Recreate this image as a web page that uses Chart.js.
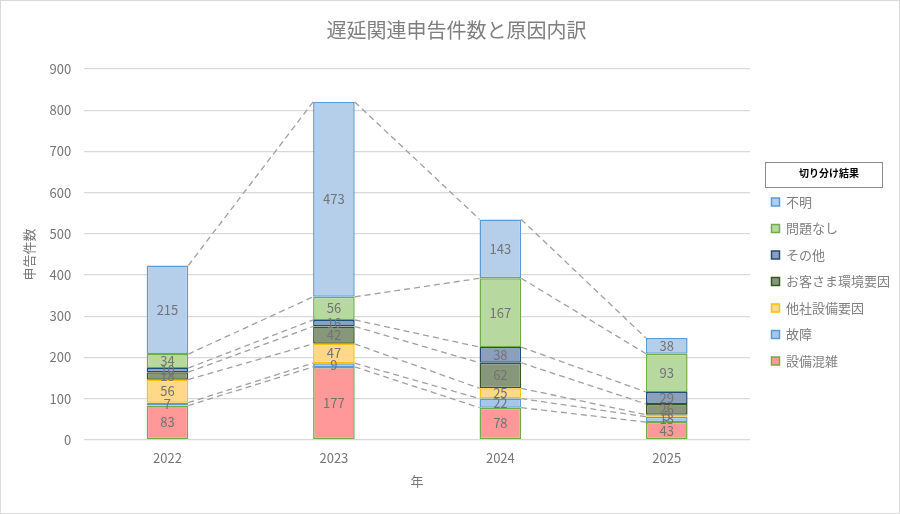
<!DOCTYPE html>
<html lang="ja">
<head>
<meta charset="utf-8">
<script src="https://cdn.jsdelivr.net/npm/chart.js@4.4.1/dist/chart.umd.min.js"></script>
<style>
  html, body { margin: 0; padding: 0; background: #fff; }
  #wrap { width: 900px; height: 514px; position: relative; }
</style>
</head>
<body>
<div id="wrap"><canvas id="myChart"></canvas></div>
<script>
"use strict";
// --- data ---
const years = ["2022", "2023", "2024", "2025"];
const causeNames = ["設備混雑", "故障", "他社設備要因", "お客さま環境要因", "その他", "問題なし", "不明"];
const setsubiKonzatsu = [83, 177, 78, 43];
const koshou = [7, 9, 22, 13];
const tashaSetsubi = [56, 47, 25, 5];
const okyakusama = [18, 42, 62, 26];
const sonota = [10, 16, 38, 29];
const mondaiNashi = [34, 56, 167, 93];
const fumei = [215, 473, 143, 38];
const yMin = 0, yMax = 900, yStep = 100;

// --- styles ---
const fills = ['#ff9999', '#a5c8ea', '#ffd88a', '#879779', '#8c9fbd', '#b7d89f', '#b5cfeb'];
const borders = ['#70ad47', '#5b9bd5', '#ffc000', '#375623', '#1f4e79', '#70ad47', '#5b9bd5'];
const FONT = '"Noto Sans CJK JP", "Noto Sans", sans-serif';
const LEGEND_TITLE_PAD = { top: 56, bottom: 2 };

const seriesValues = [setsubiKonzatsu, koshou, tashaSetsubi, okyakusama, sonota, mondaiNashi, fumei];

const chartBackground = {
    id: 'chartBackground',
    beforeDraw(chart) {
        const c = chart.ctx;
        c.save();
        c.fillStyle = '#fff';
        c.fillRect(0, 0, chart.width, chart.height);
        c.strokeStyle = '#d9d9d9';
        c.lineWidth = 1;
        c.strokeRect(0.5, 0.5, chart.width - 1, chart.height - 1);
        c.restore();
    }
};

// dashed series lines between the stacked bars
const seriesLines = {
    id: 'seriesLines',
    afterDatasetsDraw(chart) {
        const c = chart.ctx;
        c.save();
        c.strokeStyle = '#a0a0a0';
        c.lineWidth = 1.3;
        c.setLineDash([6, 4]);
        chart.data.datasets.forEach((ds, i) => {
            const bars = chart.getDatasetMeta(i).data;
            for (let j = 0; j < bars.length - 1; j++) {
                const a = bars[j], b = bars[j + 1];
                c.beginPath();
                c.moveTo(a.x + a.width / 2, a.y);
                c.lineTo(b.x - b.width / 2, b.y);
                c.stroke();
            }
        });
        c.restore();
    }
};

const barLabels = {
    id: 'barLabels',
    afterDatasetsDraw(chart) {
        const c = chart.ctx;
        c.save();
        c.font = '13px ' + FONT;
        c.fillStyle = '#737373';
        c.textAlign = 'center';
        c.textBaseline = 'middle';
        chart.data.datasets.forEach((ds, i) => {
            chart.getDatasetMeta(i).data.forEach((bar, j) => {
                c.fillText(String(ds.data[j]), bar.x, (bar.y + bar.base) / 2);
            });
        });
        c.restore();
    }
};

// box round the legend title
const legendTitleBox = {
    id: 'legendTitleBox',
    afterDraw(chart) {
        const lg = chart.legend;
        if (!lg || !lg.columnSizes) return;
        const opts = lg.options;
        const titleH = 12 + LEGEND_TITLE_PAD.top + LEGEND_TITLE_PAD.bottom;
        const maxH = lg.columnSizes.reduce((m, s) => Math.max(m, s.height), 0);
        const top = (lg.top + (lg.bottom - maxH - opts.labels.padding - titleH)) / 2;
        const mid = top + LEGEND_TITLE_PAD.top + 6;
        const c = chart.ctx;
        c.save();
        c.strokeStyle = '#8c8c8c';
        c.lineWidth = 1;
        c.strokeRect(Math.round(lg.left + opts.labels.padding - 6) + 0.5, Math.round(mid - 12.5) + 0.5, 117, 25);
        c.restore();
    }
};

let myChart = document.getElementById("myChart").getContext('2d');
let delayChart = new Chart(myChart, {
    type: 'bar',
    data: {
        labels: years,
        datasets: causeNames.map((name, i) => ({
            label: name,
            data: seriesValues[i],
            backgroundColor: fills[i],
            borderColor: borders[i],
            borderWidth: 1.5,
            borderSkipped: false,
            barPercentage: 0.5,
            categoryPercentage: 0.5
        }))
    },
    options: {
        responsive: true,
        maintainAspectRatio: false,
        animation: false,
        devicePixelRatio: 1,
        layout: { padding: { left: 13, right: 0, top: 0, bottom: 21 } },
        scales: {
            x: {
                stacked: true,
                grid: { display: false },
                border: { display: false },
                ticks: { color: '#767676', font: { family: FONT, size: 13 }, padding: 2 },
                title: { display: true, text: '年', color: '#767676', font: { family: FONT, size: 13 }, padding: { top: 6, bottom: 4 } }
            },
            y: {
                stacked: true,
                min: yMin,
                max: yMax,
                grid: { color: '#d9d9d9', lineWidth: 1.3, drawTicks: false },
                border: { display: false },
                ticks: { stepSize: yStep, color: '#767676', font: { family: FONT, size: 13 }, padding: 13 },
                title: { display: true, text: '申告件数', color: '#767676', font: { family: FONT, size: 13 }, padding: { top: 8, bottom: 0 } }
            },
            // empty spacer between the plot and the legend
            gap: {
                position: 'right',
                display: true,
                grid: { display: false },
                border: { display: false },
                ticks: { display: false },
                afterFit(scale) { scale.width = 8; }
            }
        },
        plugins: {
            title: {
                display: true,
                text: '遅延関連申告件数と原因内訳',
                color: '#7f7f7f',
                font: { family: FONT, size: 20, weight: 'normal' },
                padding: { top: 18, bottom: 27 }
            },
            legend: {
                position: 'right',
                reverse: true,
                title: {
                    display: true,
                    text: '切り分け結果',
                    color: '#000',
                    font: { family: FONT, size: 10, weight: 'bold' },
                    padding: LEGEND_TITLE_PAD
                },
                labels: {
                    boxWidth: 8,
                    boxHeight: 8,
                    padding: 13.5,
                    color: '#808080',
                    font: { family: FONT, size: 13 }
                }
            },
            tooltip: { enabled: false }
        }
    },
    plugins: [chartBackground, seriesLines, barLabels, legendTitleBox]
});
</script>
</body>
</html>
